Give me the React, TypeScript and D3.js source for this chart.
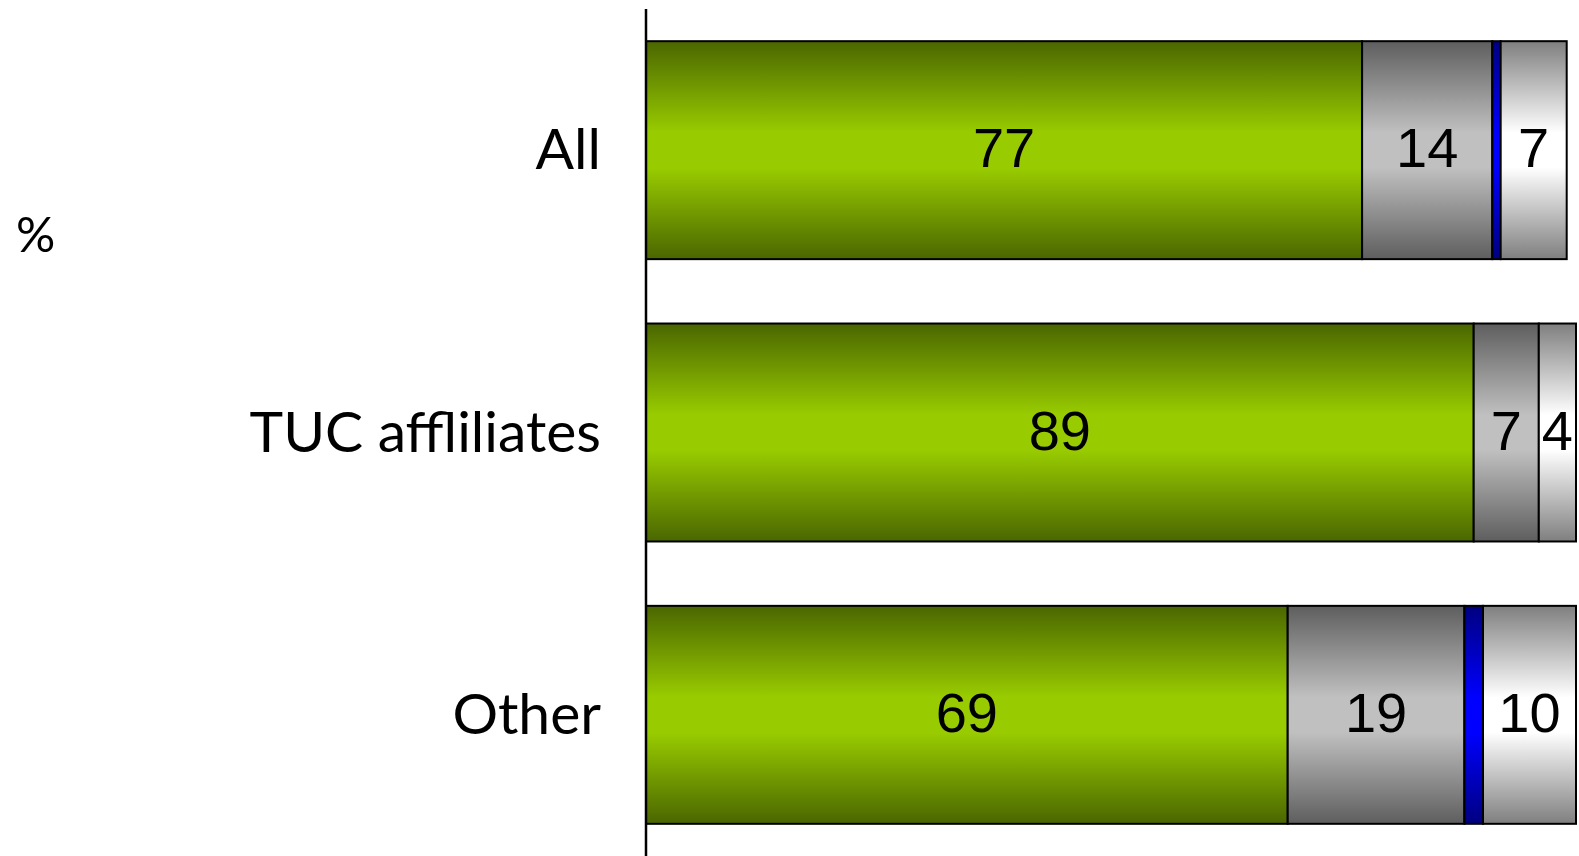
import React, { useLayoutEffect } from "react";
import * as d3 from "d3";

const categories = ["All", "TUC affliliates", "Other"];
const seriesNames = ["s1", "s2", "s3", "s4"];
const s1 = [77, 89, 69];
const s2 = [14, 7, 19];
const s3 = [0.9, 0, 2];
const s4 = [7.1, 4, 10];
const labelsShown = [[77, 14, null, 7], [89, 7, null, 4], [69, 19, null, 10]];
const gradients = [
  { id: "g1", edge: "#4a6600", mid: "#99cc00" },
  { id: "g2", edge: "#5e5e5e", mid: "#c0c0c0" },
  { id: "g3", edge: "#000080", mid: "#0000ff" },
  { id: "g4", edge: "#7f7f7f", mid: "#ffffff" },
];

const W = 1579;
const H = 856;

export default function App() {
  useLayoutEffect(() => {
    document.body.style.margin = "0";
    document.body.style.overflow = "hidden";
    document.documentElement.style.overflow = "hidden";
  }, []);
  const x = d3.scaleLinear().domain([0, 100]).range([646, 1576]);
  const y = d3.scaleBand().domain(categories).range([9, 856]).paddingInner(0.228).paddingOuter(0.114);
  const data = categories.map((c, i) => ({ cat: c, s1: s1[i], s2: s2[i], s3: s3[i], s4: s4[i] }));
  const stack = d3.stack<any>().keys(seriesNames)(data);

  return (
    <svg width={W} height={H} style={{ display: "block" }}>
      <defs>
        {gradients.map((g) => (
          <linearGradient key={g.id} id={g.id} x1="0" y1="0" x2="0" y2="1">
            <stop offset="0%" stopColor={g.edge} />
            <stop offset="42%" stopColor={g.mid} />
            <stop offset="58%" stopColor={g.mid} />
            <stop offset="100%" stopColor={g.edge} />
          </linearGradient>
        ))}
      </defs>
      <rect width={W} height={H} fill="#fff" />
      {stack.map((layer, si) =>
        layer.map((d, ci) => {
          const w = x(d[1]) - x(d[0]);
          if (w <= 0) return null;
          return (
            <rect
              key={si + "-" + ci}
              x={x(d[0])}
              y={y(categories[ci])}
              width={w}
              height={y.bandwidth()}
              fill={`url(#${gradients[si].id})`}
              stroke="#000"
              strokeWidth={2}
            />
          );
        })
      )}
      {stack.map((layer, si) =>
        layer.map((d, ci) => {
          const lab = labelsShown[ci][si];
          if (lab == null) return null;
          return (
            <text
              key={"t" + si + "-" + ci}
              x={(x(d[0]) + x(d[1])) / 2}
              y={(y(categories[ci]) as number) + y.bandwidth() / 2 + 17}
              textAnchor="middle"
              fontFamily="Liberation Sans, Arial, sans-serif"
              fontSize={56}
              fill="#000"
            >
              {lab}
            </text>
          );
        })
      )}
      {categories.map((c) => (
        <text
          key={c}
          x={601}
          y={(y(c) as number) + y.bandwidth() / 2 + 19}
          textAnchor="end"
          fontFamily="Lato, sans-serif"
          fontSize={57}
          fill="#000"
        >
          {c}
        </text>
      ))}
      <text x={16} y={252} fontFamily="Lato, sans-serif" fontSize={49} fill="#000">
        %
      </text>
      <line x1={646} x2={646} y1={9} y2={856} stroke="#000" strokeWidth={2.5} />
    </svg>
  );
}
